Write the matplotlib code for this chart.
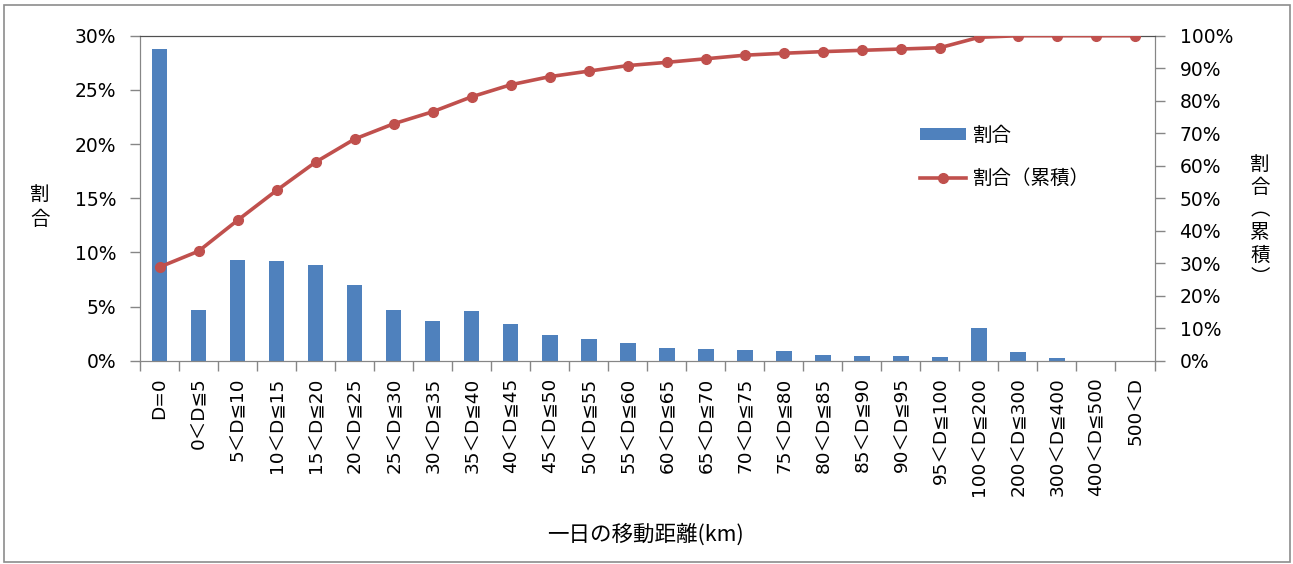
import matplotlib
matplotlib.use("Agg")
import matplotlib.pyplot as plt
from matplotlib.patches import Patch, Rectangle
from matplotlib.lines import Line2D
from matplotlib.ticker import PercentFormatter, FixedLocator, NullFormatter

plt.rcParams['font.family'] = ['DejaVu Sans', 'Noto Sans CJK JP']

categories = ["D=0", "0＜D≦5", "5＜D≦10", "10＜D≦15", "15＜D≦20", "20＜D≦25",
              "25＜D≦30", "30＜D≦35", "35＜D≦40", "40＜D≦45", "45＜D≦50",
              "50＜D≦55", "55＜D≦60", "60＜D≦65", "65＜D≦70", "70＜D≦75",
              "75＜D≦80", "80＜D≦85", "85＜D≦90", "90＜D≦95", "95＜D≦100",
              "100＜D≦200", "200＜D≦300", "300＜D≦400", "400＜D≦500", "500＜D"]

share = [28.8, 4.65, 9.33, 9.23, 8.8, 6.96, 4.65, 3.64, 4.56, 3.42, 2.37,
         1.97, 1.6, 1.17, 1.05, 0.96, 0.87, 0.53, 0.43, 0.43, 0.34,
         3.02, 0.78, 0.22, 0.0, 0.0]

cumulative = [28.8, 33.7, 43.2, 52.4, 61.1, 68.2, 72.9, 76.6, 81.2, 84.9, 87.4,
              89.1, 90.8, 91.8, 92.9, 94.0, 94.6, 95.1, 95.5, 95.9, 96.3,
              99.5, 100.0, 100.0, 100.0, 100.0]

left_ticks = [0, 5, 10, 15, 20, 25, 30]
right_ticks = [0, 10, 20, 30, 40, 50, 60, 70, 80, 90, 100]

bar_color = "#4F81BD"
line_color = "#C0504D"
axis_color = "#868686"
cjk = ['Noto Sans CJK JP', 'DejaVu Sans']

W, H = 1293, 564
fig = plt.figure(figsize=(W / 100, H / 100), dpi=100)
fig.patch.set_facecolor("white")

# outer chart frame
fig.patches.append(Rectangle((4 / W, 1 - 562 / H), (1290 - 4) / W, (562 - 5) / H,
                             transform=fig.transFigure, fill=False,
                             edgecolor="#8c8c8c", linewidth=1.2))

ax = fig.add_axes([140 / W, 1 - 360.7 / H, (1154.5 - 140) / W, (360.7 - 35.7) / H])
x = list(range(len(categories)))
ax.bar(x, share, width=0.4, color=bar_color, zorder=2)
ax.set_xlim(-0.5, len(categories) - 0.5)
ax.set_ylim(0, 30)
ax.yaxis.set_major_locator(FixedLocator(left_ticks))
ax.yaxis.set_major_formatter(PercentFormatter(100, decimals=0))
ax.set_xticks(x)
ax.set_xticklabels(categories, rotation=90, fontsize=13.3, ha='center', va='top')
ax.xaxis.set_minor_locator(FixedLocator([i + 0.5 for i in range(-1, len(categories))]))
ax.xaxis.set_minor_formatter(NullFormatter())
ax.tick_params(axis='x', which='major', length=0, pad=12)
ax.tick_params(axis='x', which='minor', length=7, color=axis_color, width=1)
ax.tick_params(axis='y', which='major', length=7, color=axis_color, width=1,
               labelsize=13.5, pad=10, direction='out')
for s in ['left', 'bottom', 'right']:
    ax.spines[s].set_color(axis_color)
ax.spines['top'].set_color("#505050")

ax2 = ax.twinx()
ax2.plot(x, cumulative, color=line_color, linewidth=2.6, marker='o',
         markersize=7, zorder=3)
ax2.set_ylim(0, 100)
ax2.yaxis.set_major_locator(FixedLocator(right_ticks))
ax2.yaxis.set_major_formatter(PercentFormatter(100, decimals=0))
ax2.tick_params(axis='y', length=7, color=axis_color, width=1,
                labelsize=13.5, pad=11)
for s in ['left', 'bottom', 'right']:
    ax2.spines[s].set_color(axis_color)
ax2.spines['top'].set_color("#505050")

# axis titles
fig.text(40 / W, 1 - 207 / H, "割\n合", family=cjk, fontsize=14,
         ha='center', va='center', linespacing=1.2)
fig.text(1260 / W, 1 - 221 / H, "割\n合\n︵\n累\n積\n︶", family=cjk, fontsize=14,
         ha='center', va='center', linespacing=1.1)
fig.text(645 / W, 1 - 535 / H, "一日の移動距離(km)", family=cjk, fontsize=15.5,
         ha='center', va='center')

handles = [Patch(facecolor=bar_color, edgecolor='none'),
           Line2D([0], [0], color=line_color, linewidth=2.6, marker='o', markersize=7)]
fig.legend(handles, ["割合", "割合（累積）"], loc='upper left',
           bbox_to_anchor=(920 / W, 1 - 125 / H), frameon=False,
           prop={'family': cjk, 'size': 14}, handlelength=2.35, handleheight=0.62,
           handletextpad=0.35, labelspacing=1.15, borderpad=0, borderaxespad=0)

fig.savefig("out.png", dpi=100, facecolor="white")
